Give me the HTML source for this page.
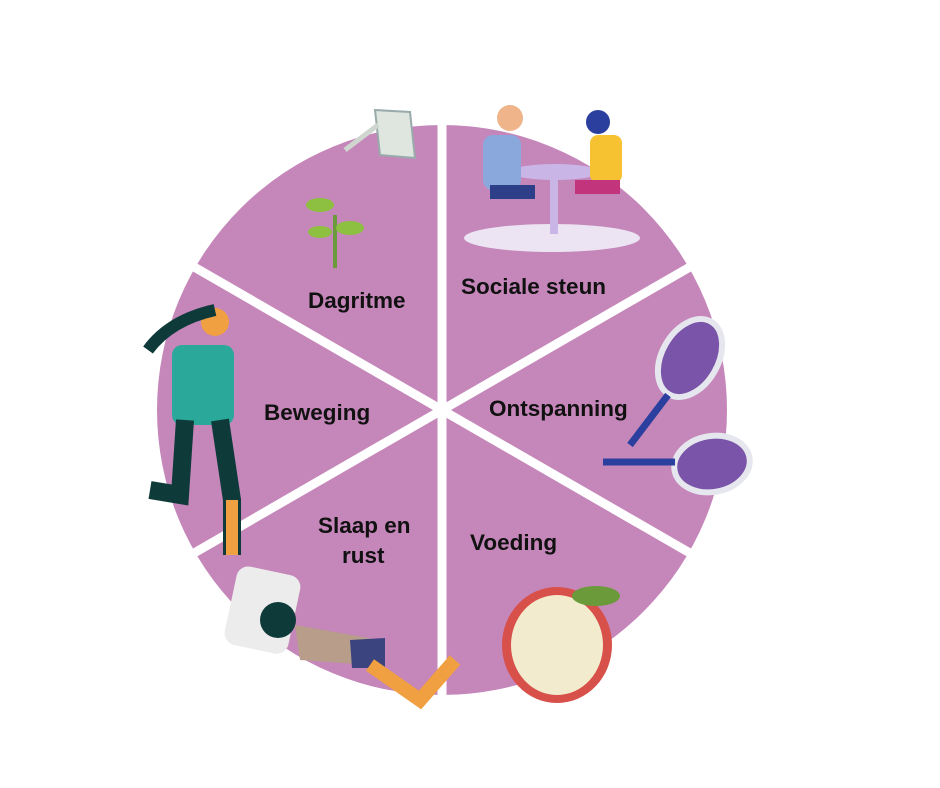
<!DOCTYPE html>
<html><head><meta charset="utf-8"><style>
html,body{margin:0;padding:0;background:#fff;}
svg{display:block}
text{font-family:"Liberation Sans",sans-serif;font-weight:bold;font-size:22.5px;fill:#111;}
</style></head><body>
<svg width="940" height="788" viewBox="0 0 940 788">
<circle cx="442" cy="410" r="285" fill="#C586BA"/>
<g stroke="#fff" stroke-width="9">
<line x1="442" y1="110" x2="442" y2="710"/>
<line x1="182" y1="260" x2="702" y2="560"/>
<line x1="182" y1="560" x2="702" y2="260"/>
</g>
<g>
<path d="M375 110 L410 112 L415 158 L380 155 Z" fill="#dfe6df" stroke="#9aa" stroke-width="2"/>
<path d="M378 125 L345 150" stroke="#cfd6cf" stroke-width="5"/>
<line x1="335" y1="215" x2="335" y2="268" stroke="#6a9a3a" stroke-width="4"/>
<ellipse cx="320" cy="205" rx="14" ry="7" fill="#8dc040"/>
<ellipse cx="350" cy="228" rx="14" ry="7" fill="#8dc040"/>
<ellipse cx="320" cy="232" rx="12" ry="6" fill="#8dc040"/>
</g>
<g>
<ellipse cx="552" cy="238" rx="88" ry="14" fill="#ece4f2"/>
<ellipse cx="555" cy="172" rx="45" ry="8" fill="#c9b6e6"/>
<rect x="550" y="172" width="8" height="62" fill="#c9b6e6"/>
<rect x="483" y="135" width="38" height="55" rx="10" fill="#8aa8dc"/>
<circle cx="510" cy="118" r="13" fill="#f0b48a"/>
<rect x="490" y="185" width="45" height="14" fill="#2c3f88"/>
<rect x="590" y="135" width="32" height="48" rx="8" fill="#f6c232"/>
<circle cx="598" cy="122" r="12" fill="#2a3f9e"/>
<rect x="575" y="180" width="45" height="14" fill="#c2357d"/>
</g>
<g>
<ellipse cx="690" cy="358" rx="28" ry="42" transform="rotate(30 690 358)" fill="#7a54a8" stroke="#e6e6ee" stroke-width="6"/>
<line x1="668" y1="395" x2="630" y2="445" stroke="#2a3f9e" stroke-width="7"/>
<ellipse cx="712" cy="464" rx="38" ry="28" transform="rotate(-10 712 464)" fill="#7a54a8" stroke="#e6e6ee" stroke-width="6"/>
<line x1="675" y1="462" x2="603" y2="462" stroke="#2a3f9e" stroke-width="7"/>
</g>
<g>
<ellipse cx="557" cy="645" rx="55" ry="58" fill="#d8504a"/>
<ellipse cx="557" cy="645" rx="46" ry="50" fill="#f3ebcd"/>
<ellipse cx="596" cy="596" rx="24" ry="10" fill="#6a9a3a"/>
</g>
<g>
<circle cx="215" cy="322" r="14" fill="#f0a040"/>
<path d="M215 310 Q170 320 148 350" stroke="#0f3a3a" stroke-width="12" fill="none"/>
<rect x="172" y="345" width="62" height="80" rx="10" fill="#2aa89a"/>
<path d="M185 420 L180 495 L150 490" stroke="#0f3a3a" stroke-width="18" fill="none"/>
<path d="M220 420 L232 500 L232 555" stroke="#0f3a3a" stroke-width="18" fill="none"/>
<line x1="232" y1="500" x2="232" y2="555" stroke="#f0a040" stroke-width="12"/>
</g>
<g>
<rect x="230" y="570" width="65" height="80" rx="12" fill="#ececec" transform="rotate(12 262 610)"/>
<circle cx="278" cy="620" r="18" fill="#0f3a3a"/>
<path d="M295 625 L380 640 L370 665 L300 660 Z" fill="#b89e8a"/>
<path d="M350 640 L385 638 L385 668 L352 668 Z" fill="#3c4480"/>
<path d="M370 665 L420 700 L455 660" stroke="#f0a040" stroke-width="14" fill="none"/>
</g>
<text x="308" y="308">Dagritme</text>
<text x="461" y="294">Sociale steun</text>
<text x="264" y="420">Beweging</text>
<text x="489" y="416">Ontspanning</text>
<text x="318" y="533">Slaap en</text>
<text x="342" y="563">rust</text>
<text x="470" y="550">Voeding</text>
</svg>
</body></html>
